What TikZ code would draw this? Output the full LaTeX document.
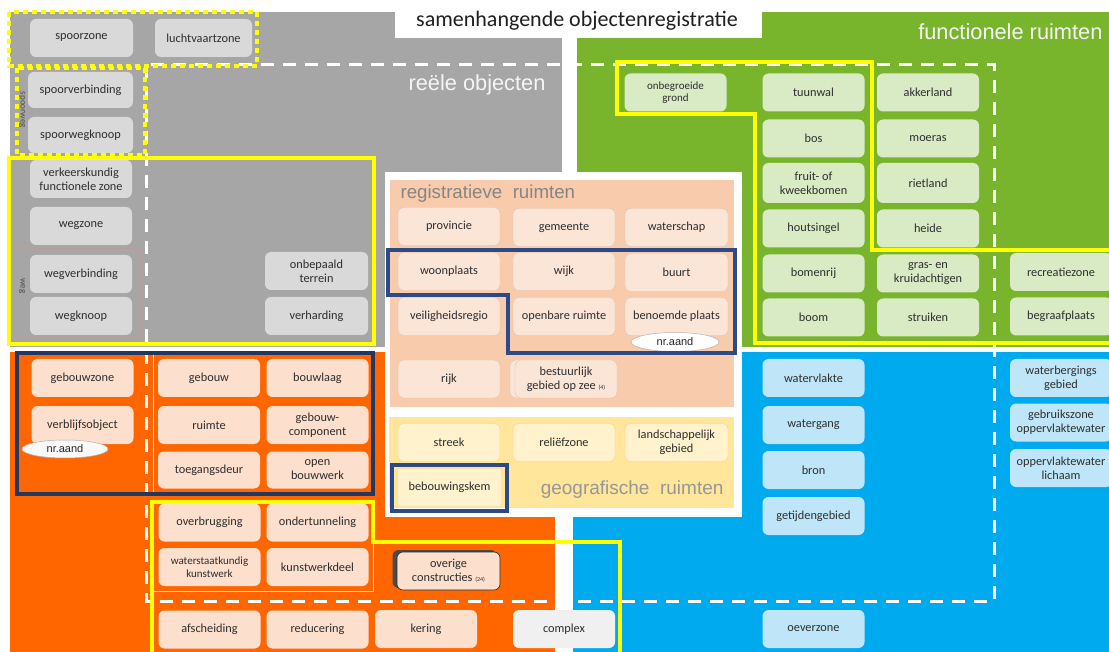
\documentclass[tikz,border=0pt]{standalone}
\usepackage{fontspec}
\setmainfont{Carlito}
\newfontfamily\arialf{Liberation Sans}
\usetikzlibrary{shapes.geometric}
\definecolor{graybg}{HTML}{A6A6A6}
\definecolor{grayboxc}{HTML}{D9D9D9}
\definecolor{greenbg}{HTML}{78B52C}
\definecolor{greenboxc}{HTML}{D8EBC5}
\definecolor{orangebg}{HTML}{FF6600}
\definecolor{orangeboxc}{HTML}{FCDFCC}
\definecolor{bluebg}{HTML}{00AAEF}
\definecolor{blueboxc}{HTML}{BEE6F8}
\definecolor{peachbg}{HTML}{F8CBAD}
\definecolor{peachboxc}{HTML}{FBE5D7}
\definecolor{peachedge}{HTML}{E9C3A8}
\definecolor{geobg}{HTML}{FFE69A}
\definecolor{geoboxc}{HTML}{FFF2CC}
\definecolor{geoedge}{HTML}{EBD394}
\definecolor{yel}{HTML}{FFFF00}
\definecolor{navy}{HTML}{203864}
\definecolor{navyb}{HTML}{2C4A88}
\definecolor{txt}{HTML}{2E2E2E}
\definecolor{lbl}{HTML}{858585}
\newcommand\boxfont{\fontsize{12.3}{14}\selectfont}
\newcommand\smallboxfont{\fontsize{11}{12.5}\selectfont}
\newcommand\minifont{\fontsize{6}{7}\selectfont}
\tikzset{
  objbox/.style={rounded corners=6pt, minimum width=102pt, minimum height=38pt, inner sep=1pt, align=center, font=\boxfont, text=txt},
  gb/.style={objbox, fill=grayboxc},
  grb/.style={objbox, fill=greenboxc},
  ob/.style={objbox, fill=orangeboxc},
  bb/.style={objbox, fill=blueboxc},
  pb/.style={objbox, fill=peachboxc, draw=peachedge, line width=0.4pt},
  yb/.style={objbox, fill=geoboxc, draw=geoedge, line width=0.4pt},
  yelline/.style={draw=yel, line width=4pt},
  yeldot/.style={draw=yel, line width=3.5pt, dash pattern=on 5pt off 4pt},
  navyline/.style={draw=navy, line width=4pt},
  whitedash/.style={draw=white, line width=3pt, dash pattern=on 13pt off 9pt},
  thinframe/.style={draw=white!85!orangebg, line width=0.8pt},
  bigwhite/.style={font=\arialf\fontsize{21.8}{24}\selectfont, text=white!96!black},
  biggray/.style={font=\arialf\fontsize{18.7}{21}\selectfont, text=lbl},
  nrellipse/.style={ellipse, draw=gray!60, line width=0.5pt, fill=#1, minimum width=88pt, minimum height=19pt, inner sep=0pt, font=\arialf\fontsize{11}{12}\selectfont, text=black!85},
  vlabel/.style={rotate=-90, font=\fontsize{9}{10}\selectfont, text=black!70}
}
\begin{document}
\begin{tikzpicture}[x=1pt,y=-1pt]
\useasboundingbox (0,0) rectangle (1109,652);
\clip (0,0) rectangle (1109,652);
\fill[white] (0,0) rectangle (1109,652);
% region backgrounds
\fill[graybg] (10,12) rectangle (562,347);
\fill[greenbg] (577,12) rectangle (1109,347);
\fill[orangebg] (10,352) rectangle (555,652);
\fill[bluebg] (573,352) rectangle (1109,652);
\fill[white] (395,0) rectangle (762,38);
\node[font=\fontsize{22}{26}\selectfont, text=black!88] (title) at (577,21) {samenhangende objectenregistratie};
% center white box
\fill[white] (385,172) rectangle (742,517);
\fill[peachbg] (390,180) rectangle (734,407);
\fill[geobg] (389,417) rectangle (734,508);
% labels
\node[bigwhite, anchor=east] (reeel) at (549,85) {reële objecten};
\node[bigwhite, anchor=east] (functioneel) at (1106,32) {functionele ruimten};
\node[biggray, anchor=west] (regis) at (397,194) {registratieve\ \ ruimten};
\node[biggray, font=\arialf\fontsize{19}{21}\selectfont, anchor=east, text=lbl!85!white] (geo) at (727,490) {geografische\ \ ruimten};
% thin frames
\draw[draw=gray!55!pink, line width=0.8pt] (17,248) rectangle (140,338);
\draw[thinframe] (153,352) -- (153,494);
\draw[thinframe] (152,503) rectangle (373,591);
% white dashed rectangle
\draw[whitedash] (146,65) rectangle (994,601);
% gray boxes
\node[gb, minimum width=103pt] (spoorzone) at (81.5,38) {spoorzone};
\node[gb, minimum width=97pt] (luchtvaart) at (203.5,38) {luchtvaartzone};
\node[gb, minimum width=105pt, minimum height=36pt] (spoorverb) at (80.5,90) {spoorverbinding};
\node[gb, minimum width=105pt, minimum height=36pt] (spoorknoop) at (80.5,135) {spoorwegknoop};
\node[gb] (verkeer) at (81,179) {verkeerskundig\\functionele zone};
\node[gb] (wegzone) at (81,226) {wegzone};
\node[gb] (wegverb) at (81,274) {wegverbinding};
\node[gb] (wegknoop) at (81,316) {wegknoop};
\node[gb, minimum width=103pt] (onbepaald) at (316.5,271) {onbepaald\\terrein};
\node[gb, minimum width=103pt] (verharding) at (316.5,316) {verharding};
\node[vlabel] (spoorweglbl) at (22,110) {spoorweg};
\node[vlabel] (weglbl) at (22,286) {weg};
% registratieve boxes
\node[pb] (provincie) at (449,226.5) {provincie};
\node[pb] (gemeente) at (564,227.5) {gemeente};
\node[pb, minimum width=103pt] (waterschap) at (676.5,227.5) {waterschap};
\node[pb] (woonplaats) at (449,271.5) {woonplaats};
\node[pb] (wijk) at (564,271.5) {wijk};
\node[pb, minimum width=103pt] (buurt) at (676.5,272.5) {buurt};
\node[pb] (veiligheid) at (449,316.5) {veiligheidsregio};
\node[pb] (openbare) at (564,316.5) {openbare ruimte};
\node[pb, minimum width=103pt] (benoemde) at (676.5,316.5) {benoemde plaats};
\node[nrellipse=white] (nraand1) at (675,342) {nr.aand};
\node[pb] (rijk) at (449,379) {rijk};
\node[pb] (bestuurshadow) at (561,379) {};
\node[pb] (bestuurlijk) at (566,379) {bestuurlijk\\gebied op zee {\minifont(4)}};
% geografische boxes
\node[yb] (streek) at (449,442.5) {streek};
\node[yb] (relief) at (564,442.5) {reliëfzone};
\node[yb, minimum width=103pt] (landschap) at (676.5,442.5) {landschappelijk\\gebied};
\node[yb, minimum width=104pt, rounded corners=2pt] (bebouwing) at (449.5,487.5) {bebouwingskem};
\draw[draw=navyb, line width=4pt] (392,465) rectangle (507,511);
\draw[draw=navyb, line width=4pt] (388,250) -- (735,250) -- (735,353) -- (508,353) -- (508,295) -- (388,295) -- cycle;
% green boxes
\node[grb, font=\smallboxfont] (onbegroeid) at (675.5,92.5) {onbegroeide\\grond};
\node[grb] (tuunwal) at (813.5,92.5) {tuunwal};
\node[grb] (akkerland) at (928,92.5) {akkerland};
\node[grb] (bos) at (813.5,138.5) {bos};
\node[grb] (moeras) at (928,138.5) {moeras};
\node[grb, minimum height=40pt] (fruit) at (813.5,183) {fruit- of\\kweekbomen};
\node[grb, minimum height=40pt] (rietland) at (928,183) {rietland};
\node[grb] (houtsingel) at (813.5,228.5) {houtsingel};
\node[grb] (heide) at (928,228.5) {heide};
\node[grb] (bomenrij) at (813.5,273.5) {bomenrij};
\node[grb] (gras) at (928,273.5) {gras- en\\kruidachtigen};
\node[grb] (boom) at (813.5,317.5) {boom};
\node[grb] (struiken) at (928,317.5) {struiken};
\node[grb] (recreatie) at (1061,272) {recreatiezone};
\node[grb] (begraaf) at (1061,316.5) {begraafplaats};
\draw[yelline] (1115,250) -- (872,250) -- (872,62) -- (617,62) -- (617,114) -- (755,114) -- (755,343) -- (1115,343);
% orange boxes
\node[ob] (gebouwzone) at (82.5,378) {gebouwzone};
\node[ob] (verblijf) at (82.5,425) {verblijfsobject};
\node[nrellipse=white!95!gray, minimum width=86pt, minimum height=18pt] (nraand2) at (65,449) {nr.aand};
\node[ob] (gebouw) at (209,378) {gebouw};
\node[ob] (bouwlaag) at (317.5,378) {bouwlaag};
\node[ob] (ruimte) at (209,425) {ruimte};
\node[ob] (gebouwcomp) at (317.5,425) {gebouw-\\component};
\node[ob, minimum height=37pt] (toegang) at (209,470) {toegangsdeur};
\node[ob, minimum height=37pt] (openbouw) at (317.5,470) {open\\bouwwerk};
\draw[navyline] (17,353) rectangle (373,494);
\node[ob] (overbrugging) at (209.5,522.5) {overbrugging};
\node[ob] (ondertunnel) at (317.5,522.5) {ondertunneling};
\node[ob, font=\smallboxfont] (waterstaat) at (209.5,567) {waterstaatkundig\\kunstwerk};
\node[ob] (kunstwerkdeel) at (317.5,567) {kunstwerkdeel};
\node[ob] (afscheiding) at (209.5,629.5) {afscheiding};
\node[ob] (reducering) at (317.5,629.5) {reducering};
\node[ob] (kering) at (426,629) {kering};
\node[objbox, fill=white!94!black] (complex) at (564,629) {complex};
\node[objbox, fill=black!70, minimum width=104pt, minimum height=38pt] (overigeshadow) at (444.5,569) {};
\node[ob, draw=black!85, line width=0.6pt, minimum width=103pt, minimum height=38pt] (overige) at (448.5,571) {overige\\constructies {\minifont(24)}};
\draw[yelline] (152,660) -- (152,502) -- (373,502) -- (373,542) -- (620,542) -- (620,660);
% blue boxes
\node[bb] (watervlakte) at (813.5,378) {watervlakte};
\node[bb] (watergang) at (813.5,425) {watergang};
\node[bb] (bron) at (813.5,470) {bron};
\node[bb] (getijden) at (813.5,516) {getijdengebied};
\node[bb] (oeverzone) at (813.5,629) {oeverzone};
\node[bb] (waterberging) at (1061,378) {waterbergings\\gebied};
\node[bb] (gebruikszone) at (1061,422.5) {gebruikszone\\oppervlaktewater};
\node[bb] (lichaam) at (1061,468) {oppervlaktewater\\lichaam};
% yellow outlines in gray
\draw[yelline] (9,158) rectangle (374,344);
\draw[yeldot] (9,12) rectangle (257,66);
\draw[yeldot] (17,68) rectangle (145,155);
\end{tikzpicture}
\end{document}
